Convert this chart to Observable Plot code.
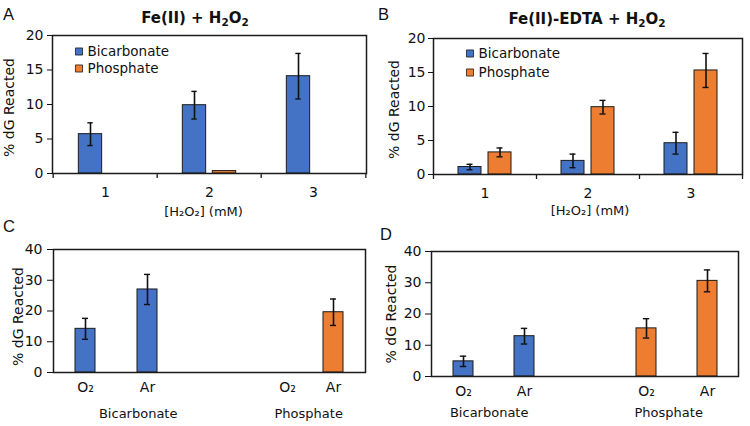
<!DOCTYPE html>
<html>
<head>
<meta charset="utf-8">
<script src="https://cdn.jsdelivr.net/npm/d3@7"></script>
<script src="https://cdn.jsdelivr.net/npm/@observablehq/plot@0.6"></script>
<style>
  body { margin: 0; background: #fff; }
  #fig { position: relative; width: 750px; height: 426px; background: #fff; overflow: hidden; }
  .panel { position: absolute; width: 375px; height: 213px; }
  .letter { position: absolute; font-family: "Liberation Sans", Arial, sans-serif; font-size: 16.5px; color: #111; line-height: 1; }
  .title { position: absolute; font-family: "DejaVu Sans", sans-serif; font-weight: bold; font-size: 15px; color: #111; line-height: 1; transform: translateX(-50%); white-space: nowrap; }
  .title sub { font-size: 10.5px; vertical-align: -3px; }
</style>
</head>
<body>
<div id="fig"></div>
<script>
// ---------- data ----------
const concs = ["1", "2", "3"];                 // [H2O2] (mM)
const series = ["Bicarbonate", "Phosphate"];
const colors = ["#4472C4", "#ED7D31"];
const yTicksTop = [0, 5, 10, 15, 20];
const yTicksBottom = [0, 10, 20, 30, 40];

// Panel A: Fe(II) + H2O2
const aBicarb = [5.7, 9.9, 14.1];
const aBicarbErr = [1.65, 2.0, 3.3];
const aPhos = [0, 0.35, 0];
const aPhosErr = [null, null, null];

// Panel B: Fe(II)-EDTA + H2O2
const bBicarb = [1.1, 2.0, 4.6];
const bBicarbErr = [0.4, 1.0, 1.6];
const bPhos = [3.25, 9.9, 15.3];
const bPhosErr = [0.65, 1.0, 2.5];

// Panels C, D: atmosphere
const gases = ["O₂", "Ar"];
const cBicarb = [14.2, 27.0];
const cBicarbErr = [3.4, 4.9];
const cPhos = [0, 19.6];
const cPhosErr = [null, 4.3];
const dBicarb = [4.85, 12.9];
const dBicarbErr = [1.65, 2.5];
const dPhos = [15.4, 30.6];
const dPhosErr = [3.1, 3.5];

const W = 375, H = 213;
const FONT = "DejaVu Sans";
const INK = "#111";
const EDGE = "#1b1b1b";
const PAD_IN = 0.68;

function yLabel(cfg) {
  return Plot.text(["% dG Reacted"], {
    text: d => d, frameAnchor: "left", dx: cfg.ylabX - cfg.ml, dy: cfg.ylabDy,
    rotate: -90, textAnchor: "middle", lineAnchor: "middle", fontSize: 14, fill: INK
  });
}

function concPanel(cfg) {
  const bw = (W - cfg.ml - cfg.mr) / concs.length;
  const off = 15, half = cfg.half, cap = 3;
  const vals = [cfg.bic, cfg.pho], errs = [cfg.bicErr, cfg.phoErr];
  const marks = [];
  series.forEach((s, k) => {
    const o = k === 0 ? -off : off;
    const data = concs.map((c, i) => ({c, v: vals[k][i], e: errs[k][i]}));
    marks.push(Plot.barY(data.filter(d => d.v > 0), {
      x: "c", y: "v", fill: colors[k], stroke: EDGE, strokeWidth: 1,
      insetLeft: bw / 2 + o - half, insetRight: bw / 2 - o - half
    }));
    const ed = data.filter(d => d.e != null);
    marks.push(Plot.ruleX(ed, {x: "c", y1: d => d.v - d.e, y2: d => d.v + d.e, dx: o, stroke: INK, strokeWidth: 1.6}));
    for (const sg of [-1, 1]) {
      marks.push(Plot.tickY(ed, {x: "c", y: d => d.v + sg * d.e, insetLeft: bw / 2 + o - cap, insetRight: bw / 2 - o - cap, stroke: INK, strokeWidth: 1.4}));
    }
    marks.push(Plot.dot([s], {frameAnchor: "top-left", dx: cfg.legDx, dy: cfg.legDy + k * cfg.legStep, symbol: "square", r: 4, fill: colors[k], stroke: EDGE, strokeWidth: 0.8}));
    marks.push(Plot.text([s], {text: d => d, frameAnchor: "top-left", dx: cfg.legDx + 8.5, dy: cfg.legDy + k * cfg.legStep, textAnchor: "start", lineAnchor: "middle", fontSize: 13.5, fill: INK}));
  });
  // category boundary ticks below the axis
  marks.push(Plot.ruleX(concs, {x: d => d, dx: -bw / 2, insetTop: H - cfg.mt - cfg.mb, insetBottom: -5, stroke: EDGE, strokeWidth: 1.3}));
  marks.push(Plot.ruleX(concs.slice(-1), {x: d => d, dx: bw / 2, insetTop: H - cfg.mt - cfg.mb, insetBottom: -5, stroke: EDGE, strokeWidth: 1.3}));
  marks.push(Plot.frame({stroke: EDGE, strokeWidth: 1.5}));
  marks.push(yLabel(cfg));
  marks.push(Plot.text(["[H₂O₂] (mM)"], {text: d => d, frameAnchor: "bottom", dx: cfg.xlabDx, dy: cfg.xlabDy, lineAnchor: "middle", fontSize: 13, fill: INK}));
  return Plot.plot({
    width: W, height: H,
    marginLeft: cfg.ml, marginRight: cfg.mr, marginTop: cfg.mt, marginBottom: cfg.mb,
    style: {fontFamily: FONT, fontSize: "14px", color: INK, background: "transparent", overflow: "visible"},
    x: {domain: concs, padding: 0, tickSize: 0, tickPadding: 14, label: null},
    y: {domain: [0, 20], ticks: yTicksTop, tickSize: 5, tickPadding: cfg.tickPad, label: null},
    marks
  });
}

function gasPanel(cfg) {
  const slots = [];
  const rows = [];
  const vals = [cfg.bic, cfg.pho], errs = [cfg.bicErr, cfg.phoErr];
  series.forEach((b, k) => {
    if (k > 0) slots.push("gap");
    gases.forEach((g, j) => {
      const key = b + "|" + g;
      slots.push(key);
      rows.push({slot: key, buffer: b, gas: g, v: vals[k][j], e: errs[k][j]});
    });
  });
  const step = (W - cfg.ml - cfg.mr) / slots.length;
  const bw = step * (1 - PAD_IN);
  const cap = 3;
  const ed = rows.filter(d => d.e != null);
  const hidden = cfg.shiftLabel || null;
  const marks = [
    Plot.barY(rows.filter(d => d.v > 0), {x: "slot", y: "v", fill: "buffer", stroke: EDGE, strokeWidth: 1}),
    Plot.ruleX(ed, {x: "slot", y1: d => d.v - d.e, y2: d => d.v + d.e, stroke: INK, strokeWidth: 1.6}),
    ...[-1, 1].map(sg => Plot.tickY(ed, {x: "slot", y: d => d.v + sg * d.e, insetLeft: bw / 2 - cap, insetRight: bw / 2 - cap, stroke: INK, strokeWidth: 1.4})),
    Plot.frame({stroke: EDGE, strokeWidth: 1.5}),
    yLabel(cfg),
    ...series.map((b, k) => Plot.text([b], {x: d => d + "|" + gases[0], text: d => d, dx: step / 2 + cfg.groupDx[k], frameAnchor: "bottom", dy: cfg.groupDy, lineAnchor: "middle", fontSize: 13, fill: INK}))
  ];
  if (hidden) {
    marks.push(Plot.text([hidden.key], {x: d => d, text: d => d.split("|")[1], dx: hidden.dx, frameAnchor: "bottom", dy: cfg.xTickPad, lineAnchor: "top", fontSize: 14, fill: INK}));
  }
  return Plot.plot({
    width: W, height: H,
    marginLeft: cfg.ml, marginRight: cfg.mr, marginTop: cfg.mt, marginBottom: cfg.mb,
    style: {fontFamily: FONT, fontSize: "14px", color: INK, background: "transparent", overflow: "visible"},
    x: {domain: slots, paddingInner: PAD_IN, paddingOuter: PAD_IN / 2, tickSize: 0, tickPadding: cfg.xTickPad, label: null,
        tickFormat: d => (d === "gap" || (hidden && d === hidden.key)) ? "" : d.split("|")[1]},
    y: {domain: [0, 40], ticks: yTicksBottom, tickSize: 6, tickPadding: cfg.tickPad, label: null},
    color: {domain: series, range: colors},
    marks
  });
}

const fig = document.getElementById("fig");
function place(node, left, top) {
  const d = document.createElement("div");
  d.className = "panel";
  d.style.left = left + "px";
  d.style.top = top + "px";
  d.appendChild(node);
  fig.appendChild(d);
}

place(concPanel({bic: aBicarb, bicErr: aBicarbErr, pho: aPhos, phoErr: aPhosErr,
  ml: 52, mr: 9, mt: 35, mb: 40, half: 12, tickPad: 4,
  legDx: 26.5, legDy: 16, legStep: 17, ylabX: 9, ylabDy: 3, xlabDx: -6, xlabDy: 38}), 0, 0);
place(concPanel({bic: bBicarb, bicErr: bBicarbErr, pho: bPhos, phoErr: bPhosErr,
  ml: 58, mr: 8, mt: 38, mb: 39, half: 11.5, tickPad: 3,
  legDx: 36.5, legDy: 15, legStep: 19, ylabX: 19, ylabDy: 3, xlabDx: 2, xlabDy: 36}), 375, 0);
place(gasPanel({bic: cBicarb, bicErr: cBicarbErr, pho: cPhos, phoErr: cPhosErr,
  ml: 53, mr: 10, mt: 36, mb: 54, tickPad: 5, xTickPad: 10,
  ylabX: 18.5, ylabDy: 5.5, groupDx: [21.5, 6], groupDy: 41,
  shiftLabel: {key: "Phosphate|O₂", dx: 16}}), 0, 213);
place(gasPanel({bic: dBicarb, bicErr: dBicarbErr, pho: dPhos, phoErr: dPhosErr,
  ml: 56, mr: 12, mt: 38, mb: 50, tickPad: 4, xTickPad: 10,
  ylabX: 16.5, ylabDy: 0, groupDx: [-5, -8.5], groupDy: 36}), 375, 213);

// panel letters and titles
function addText(cls, html, left, top) {
  const d = document.createElement("div");
  d.className = cls;
  d.innerHTML = html;
  d.style.left = left + "px";
  d.style.top = top + "px";
  fig.appendChild(d);
}
addText("letter", "A", 3, 6);
addText("letter", "B", 378, 6);
addText("letter", "C", 3, 218);
addText("letter", "D", 380, 226);
addText("title", "Fe(II) + H<sub>2</sub>O<sub>2</sub>", 195, 11);
addText("title", "Fe(II)-EDTA + H<sub>2</sub>O<sub>2</sub>", 587, 12);
</script>
</body>
</html>
